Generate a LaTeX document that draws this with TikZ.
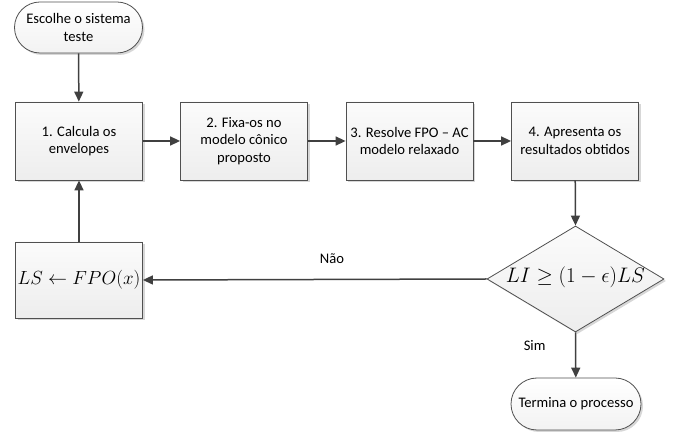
\documentclass[tikz,border=0pt]{standalone}
\usepackage{fix-cm}
\usepackage{fontspec}
\setmainfont{Carlito}
\usetikzlibrary{arrows.meta,shapes.misc,shapes.geometric,shadows}
\definecolor{edgec}{HTML}{404040}
\definecolor{borderc}{HTML}{505050}
\tikzset{
  x=1pt,y=1pt,
  base/.style={draw=borderc, line width=0.8pt, top color=gray!3, bottom color=gray!14,
    drop shadow={shadow xshift=2pt, shadow yshift=-2pt, fill=gray!45, opacity=0.7},
    font=\fontsize{14.6}{17.5}\selectfont, align=center, inner sep=0pt},
  procbox/.style={base, rectangle, minimum width=127, minimum height=78},
  termbox/.style={base, rounded rectangle, minimum width=128, minimum height=51, top color=white, bottom color=gray!10},
  decbox/.style={base, diamond, minimum width=177, minimum height=106},
  conn/.style={draw=edgec, line width=1.5pt, -{Triangle[length=10pt,width=9pt]}},
  lbl/.style={font=\fontsize{14.6}{17.5}\selectfont}
}
\begin{document}
\begin{tikzpicture}
\useasboundingbox (0,0) rectangle (673,-435);
\node[termbox] (t1) at (78.5,-27.5) {Escolhe o sistema\\teste};
\node[procbox] (b1) at (79,-141) {1. Calcula os\\envelopes};
\node[procbox] (b2) at (244,-141) {2. Fixa-os no\\modelo cônico\\proposto};
\node[procbox] (b3) at (409.5,-141) {3. Resolve FPO – AC\\modelo relaxado};
\node[procbox] (b4) at (575,-141) {4. Apresenta os\\resultados obtidos};
\node[decbox] (d) at (575.5,-279) {};
\node (dt) at (575.5,-277) {\fontsize{21}{24}\selectfont$LI \geq (1-\epsilon)LS$};
\node[procbox, minimum height=76] (ls) at (79,-280) {\fontsize{19}{23}\selectfont$LS \leftarrow FPO(x)$};
\node[termbox, minimum width=130, minimum height=52] (t2) at (576,-404) {Termina o processo};
\draw[conn] (t1) -- (b1);
\draw[conn] (b1) -- (b2);
\draw[conn] (b2) -- (b3);
\draw[conn] (b3) -- (b4);
\draw[conn] (b4) -- (d.north);
\draw[conn] (d.west) -- node[lbl, pos=0.45, anchor=south, yshift=12pt] (nao) {Não} (ls.east);
\draw[conn] (ls) -- (b1);
\draw[conn] (d.south) -- node[lbl, pos=0.3, anchor=east, xshift=-26pt] (sim) {Sim} (t2);
\end{tikzpicture}
\end{document}
